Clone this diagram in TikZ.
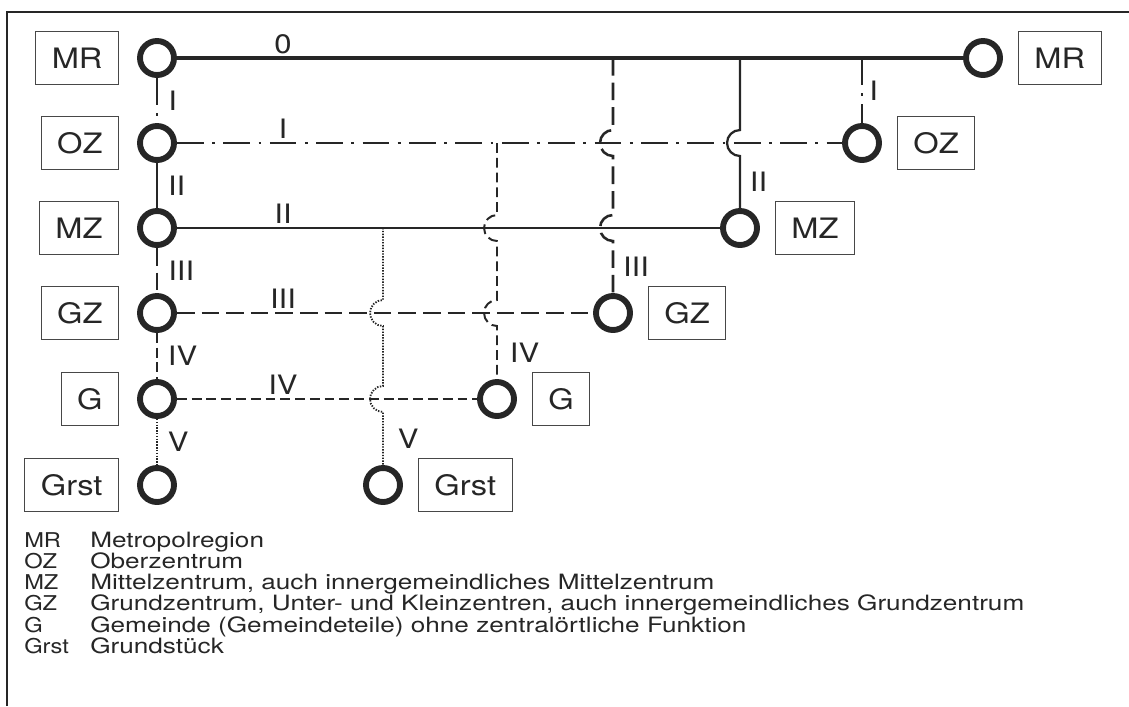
\documentclass[tikz,border=0pt]{standalone}
\usepackage{fontspec}
\setmainfont{TeX Gyre Heros}[FakeStretch=1.16]
\newfontfamily\legendfont{TeX Gyre Heros}[FakeStretch=1.24]
\usepackage{tikz}
\usetikzlibrary{calc,
  positioning
}
\definecolor{ink}{gray}{0.15}
\tikzstyle{hubcircle} = [circle, draw=ink, line width=4.2pt,
  minimum size=0.85cm, inner sep=0]
\tikzstyle{levelbox} = [draw=ink!85, line width=0.7pt, minimum height=1.32cm,
  inner xsep=0.4cm, text=ink, font=\fontsize{20}{24}\selectfont]
\tikzstyle{numlabel} = [text=ink, inner sep=0, font=\fontsize{19}{22}\selectfont]
\tikzstyle{legendkey} = [text=ink, inner sep=0, font=\fontsize{14.5}{16}\selectfont]
\tikzstyle{legendtext} = [text=ink, inner sep=0, font=\legendfont\fontsize{15}{16}\selectfont]
\tikzstyle{lzero} = [draw=ink, line width=2.2pt]
\tikzstyle{lone} = [draw=ink, line width=2pt, dash pattern=on 19pt off 6pt on 2pt off 6pt]
\tikzstyle{ltwo} = [draw=ink, line width=1.6pt]
\tikzstyle{lthree} = [draw=ink, line width=1.8pt, dash pattern=on 12.5pt off 5pt]
\tikzstyle{lfour} = [draw=ink, line width=1.4pt, dash pattern=on 7pt off 3.5pt]
\tikzstyle{lfive} = [draw=ink, line width=1.3pt, dash pattern=on 1pt off 1pt]

\begin{document}
\begin{tikzpicture}[x=0.025cm, y=-0.025cm]
  \useasboundingbox (0, 0) rectangle (1129, 706);
  \draw[ink, line width=1.3pt] (7, 706) -- (7, 12) -- (1129, 12);

  % left column
  \node[hubcircle] (mrL) at (157, 58) {};
  \node[hubcircle] (ozL) at (157, 143) {};
  \node[hubcircle] (mzL) at (157, 228) {};
  \node[hubcircle] (gzL) at (157, 313) {};
  \node[hubcircle] (gL) at (157, 399) {};
  \node[hubcircle] (grL) at (157, 485) {};
  % right ends
  \node[hubcircle] (mrR) at (983, 58) {};
  \node[hubcircle] (ozR) at (862, 143) {};
  \node[hubcircle] (mzR) at (740, 228) {};
  \node[hubcircle] (gzR) at (613, 313) {};
  \node[hubcircle] (gR) at (497, 399) {};
  \node[hubcircle] (grR) at (383, 485) {};

  \node[levelbox, left=0.45cm of mrL] (mrLbox) {MR};
  \node[levelbox, left=0.45cm of ozL] (ozLbox) {OZ};
  \node[levelbox, left=0.45cm of mzL] (mzLbox) {MZ};
  \node[levelbox, left=0.45cm of gzL] (gzLbox) {GZ};
  \node[levelbox, left=0.45cm of gL] (gLbox) {G};
  \node[levelbox, left=0.45cm of grL] (grLbox) {Grst};
  \node[levelbox, right=0.375cm of mrR] (mrRbox) {MR};
  \node[levelbox, right=0.375cm of ozR] (ozRbox) {OZ};
  \node[levelbox, right=0.375cm of mzR] (mzRbox) {MZ};
  \node[levelbox, right=0.375cm of gzR] (gzRbox) {GZ};
  \node[levelbox, right=0.375cm of gR] (gRbox) {G};
  \node[levelbox, right=0.375cm of grR] (grRbox) {Grst};

  % rows
  \draw[lzero] (mrL) -- (mrR);
  \draw[lone] (ozL) -- (ozR);
  \draw[ltwo] (mzL) -- (mzR);
  \draw[lthree] (gzL) -- (gzR);
  \draw[lfour] (gL) -- (gR);
  \foreach \row/\txt in {mrL/0, ozL/I, mzL/II, gzL/III, gL/IV} {
    \path (\row) ++(126, 0) node[numlabel, above=0.1cm] (row\txt) {\txt};
  }

  % left column links
  \draw[lone] (mrL) -- (ozL) node[numlabel, midway, right=0.25cm] (colI) {I};
  \draw[ltwo] (ozL) -- (mzL) node[numlabel, midway, right=0.25cm] (colII) {II};
  \draw[lthree] (mzL) -- (gzL) node[numlabel, midway, right=0.25cm] (colIII) {III};
  \draw[lfour] (gzL) -- (gL) node[numlabel, midway, right=0.25cm] (colIV) {IV};
  \draw[lfive] (gL) -- (grL) node[numlabel, midway, right=0.25cm] (colV) {V};

  % branches, hopping over the rows they cross
  \coordinate (b1) at (ozR |- mrL);
  \coordinate (b2) at (mzR |- mrL);
  \coordinate (b3) at (gzR |- mrL);
  \coordinate (b4) at (gR |- ozL);
  \coordinate (b5) at (grR |- mzL);

  \draw[lone] (b1) -- (ozR) node[numlabel, midway, right=0.15cm] (brI) {I};
  \draw[ltwo] (b2) -- ($(b2 |- ozL) + (0, -13)$)
    arc[start angle=90, end angle=270, radius=0.325cm]
    -- (mzR) node[numlabel, midway, right=0.22cm] (brII) {II};
  \draw[lthree] (b3) -- ($(b3 |- ozL) + (0, -13)$)
    arc[start angle=90, end angle=270, radius=0.325cm]
    -- ($(b3 |- mzL) + (0, -13)$)
    arc[start angle=90, end angle=270, radius=0.325cm]
    -- (gzR) node[numlabel, midway, right=0.22cm] (brIII) {III};
  \draw[lfour] (b4) -- ($(b4 |- mzL) + (0, -13)$)
    arc[start angle=90, end angle=270, radius=0.325cm]
    -- ($(b4 |- gzL) + (0, -13)$)
    arc[start angle=90, end angle=270, radius=0.325cm]
    -- (gR) node[numlabel, midway, right=0.3cm] (brIV) {IV};
  \draw[lfive] (b5) -- ($(b5 |- gzL) + (0, -13)$)
    arc[start angle=90, end angle=270, radius=0.325cm]
    -- ($(b5 |- gL) + (0, -13)$)
    arc[start angle=90, end angle=270, radius=0.325cm]
    -- (grR) node[numlabel, midway, right=0.35cm] (brV) {V};

  % legend
  \foreach \abbr/\desc [count=\i from 0] in {MR/Metropolregion,
    OZ/Oberzentrum,
    MZ/{Mittelzentrum, auch innergemeindliches Mittelzentrum},
    GZ/{Grundzentrum, Unter- und Kleinzentren, auch innergemeindliches Grundzentrum},
    G/{Gemeinde (Gemeindeteile) ohne zentralörtliche Funktion},
    Grst/Grundstück} {
    \path (24, 547 + 21.3 * \i) node[legendkey, anchor=base west] (key\i) {\abbr};
    \path (90, 547 + 21.3 * \i) node[legendtext, anchor=base west] (desc\i) {\desc};
  }
\end{tikzpicture}
\end{document}
